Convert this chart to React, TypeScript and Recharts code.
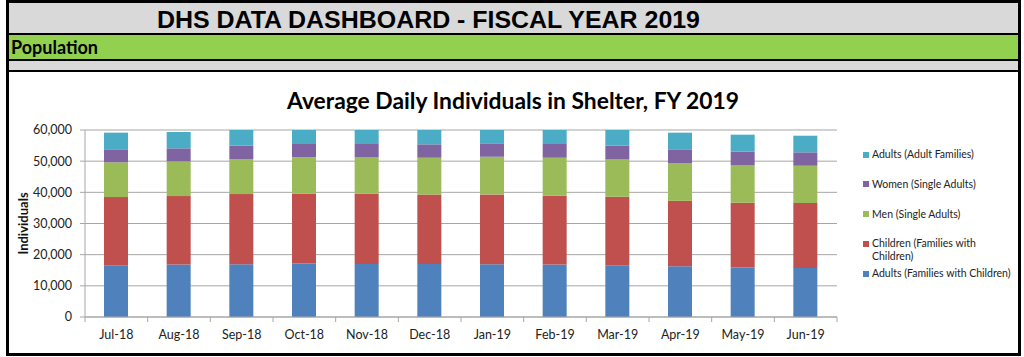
import React from 'react';
import { BarChart, Bar, XAxis, YAxis, CartesianGrid, Legend } from 'recharts';

const months = ['Jul-18', 'Aug-18', 'Sep-18', 'Oct-18', 'Nov-18', 'Dec-18', 'Jan-19', 'Feb-19', 'Mar-19', 'Apr-19', 'May-19', 'Jun-19'];
const adultsFamiliesWithChildren = [16620, 16840, 16940, 17160, 17030, 17030, 16940, 16840, 16620, 16300, 15880, 15750];
const childrenFamiliesWithChildren = [21850, 21950, 22490, 22500, 22630, 22310, 22400, 22050, 21950, 20980, 20760, 20790];
const menSingleAdults = [11150, 11150, 11250, 11570, 11570, 11760, 12080, 12210, 12020, 12120, 12120, 11990];
const womenSingleAdults = [4180, 4180, 4280, 4270, 4270, 4300, 4310, 4400, 4370, 4400, 4270, 4310];
const adultsAdultFamilies = [5340, 5240, 5200, 4700, 4700, 4800, 4500, 4700, 5200, 5340, 5470, 5330];
const yTicks = [0, 10000, 20000, 30000, 40000, 50000, 60000];

const seriesDefs = [
  { key: 'afwc', name: 'Adults (Families with Children)', color: '#4f81bd' },
  { key: 'cfwc', name: 'Children (Families with Children)', color: '#c0504d' },
  { key: 'men', name: 'Men (Single Adults)', color: '#9bbb59' },
  { key: 'women', name: 'Women (Single Adults)', color: '#8064a2' },
  { key: 'aaf', name: 'Adults (Adult Families)', color: '#4bacc6' },
];

const data = months.map((m, i) => ({
  month: m,
  afwc: adultsFamiliesWithChildren[i],
  cfwc: childrenFamiliesWithChildren[i],
  men: menSingleAdults[i],
  women: womenSingleAdults[i],
  aaf: adultsAdultFamilies[i],
}));

const CHART_W = 1010;
const CHART_H = 280;
const LEGEND_W = 160;
const PLOT_RIGHT_GAP = 173;
const MARGIN = { top: 58, right: PLOT_RIGHT_GAP - LEGEND_W, bottom: 5, left: 0 };
const YAXIS_W = 85;
const PLOT_W = CHART_W - PLOT_RIGHT_GAP - MARGIN.left - YAXIS_W;
const STEP = PLOT_W / months.length;
const GRID = '#a6a6a6';
const FONT = 'Lato, "Open Sans", sans-serif';

const XTick = (props: any) => {
  const { x, y, payload, index } = props;
  const last = index === months.length - 1;
  return (
    <g>
      <line x1={x - STEP / 2} x2={x - STEP / 2} y1={y} y2={y + 5} stroke={GRID} />
      {last && <line x1={x + STEP / 2} x2={x + STEP / 2} y1={y} y2={y + 5} stroke={GRID} />}
      <text x={x} y={y + 22} textAnchor="middle" fontFamily={FONT} fontSize={12.5} fill="#222">
        {payload.value}
      </text>
    </g>
  );
};

const LegendContent = () => {
  const items = [...seriesDefs].reverse();
  return (
    <div style={{ position: 'relative', width: LEGEND_W, height: 150, fontFamily: FONT, fontSize: 10.5, color: '#222' }}>
      {items.map((s, i) => (
        <div key={s.key} style={{ position: 'absolute', left: 0, top: i * 29.75, display: 'flex', alignItems: 'flex-start' }}>
          <div style={{ width: 6, height: 6, background: s.color, marginTop: 3.5, marginLeft: 1, flex: 'none' }} />
          <div style={{ marginLeft: 3, width: 142, lineHeight: '13px' }}>{s.name}</div>
        </div>
      ))}
    </div>
  );
};

const YLabel = (props: any) => {
  const vb = props.viewBox || {};
  const cx = 23;
  const cy = (vb.y || 0) + (vb.height || 0) / 2;
  return (
    <text x={cx} y={cy} transform={`rotate(-90 ${cx} ${cy})`} textAnchor="middle" dominantBaseline="central" fontFamily={FONT} fontWeight={700} fontSize={13} fill="#111">
      Individuals
    </text>
  );
};

export default function App() {
  return (
    <div style={{ position: 'absolute', left: 0, top: 0, width: 1024, height: 357, background: '#fff' }}>
      <svg width={1024} height={357} style={{ position: 'absolute', left: 0, top: 0 }}>
        <rect x={6} y={0} width={1015} height={356} fill="#000" />
        <rect x={9} y={3} width={1009} height={30} fill="#d9d9d9" />
        <rect x={9} y={35} width={1009} height={24} fill="#92d050" />
        <rect x={9} y={61} width={1009} height={9} fill="#d9d9d9" />
        <rect x={9} y={72} width={1009} height={281} fill="#ffffff" />
        <text x={157} y={28} textLength={543} lengthAdjust="spacingAndGlyphs" fontFamily='"Liberation Sans Narrow", "Liberation Sans", Arial, sans-serif' fontWeight={700} fontSize={24} fill="#000">
          DHS DATA DASHBOARD - FISCAL YEAR 2019
        </text>
        <text x={11} y={54} textLength={87} lengthAdjust="spacingAndGlyphs" fontFamily={FONT} fontWeight={700} fontSize={18} fill="#000">
          Population
        </text>
        <text x={287} y={109} textLength={452} lengthAdjust="spacingAndGlyphs" fontFamily={FONT} fontWeight={700} fontSize={22} fill="#000">
          Average Daily Individuals in Shelter, FY 2019
        </text>
      </svg>
      <div style={{ position: 'absolute', left: 0, top: 72, width: CHART_W, height: CHART_H }}>
        <BarChart width={CHART_W} height={CHART_H} data={data} margin={MARGIN} barSize={24}>
          <CartesianGrid vertical={false} stroke={GRID} />
          <XAxis dataKey="month" interval={0} height={30} tickSize={0} tickMargin={0} tickLine={false} axisLine={{ stroke: GRID }} tick={(p: any) => <XTick {...p} />} />
          <YAxis
            width={YAXIS_W}
            domain={[0, 60000]}
            ticks={yTicks}
            allowDataOverflow
            interval={0}
            tickSize={5}
            tickMargin={8}
            tickLine={{ stroke: GRID }}
            axisLine={{ stroke: GRID }}
            tick={{ fontFamily: FONT, fontSize: 12.5, fill: '#222' }}
            tickFormatter={(v: number) => v.toLocaleString('en-US')}
            label={(p: any) => <YLabel {...p} />}
          />
          <Legend
            layout="horizontal"
            verticalAlign="middle"
            align="right"
            content={() => <LegendContent />}
            wrapperStyle={{ position: 'absolute', left: 862, top: 76, width: LEGEND_W, height: 150 }}
          />
          {seriesDefs.map((s) => (
            <Bar key={s.key} dataKey={s.key} name={s.name} stackId="a" fill={s.color} isAnimationActive={false} />
          ))}
        </BarChart>
      </div>
    </div>
  );
}
